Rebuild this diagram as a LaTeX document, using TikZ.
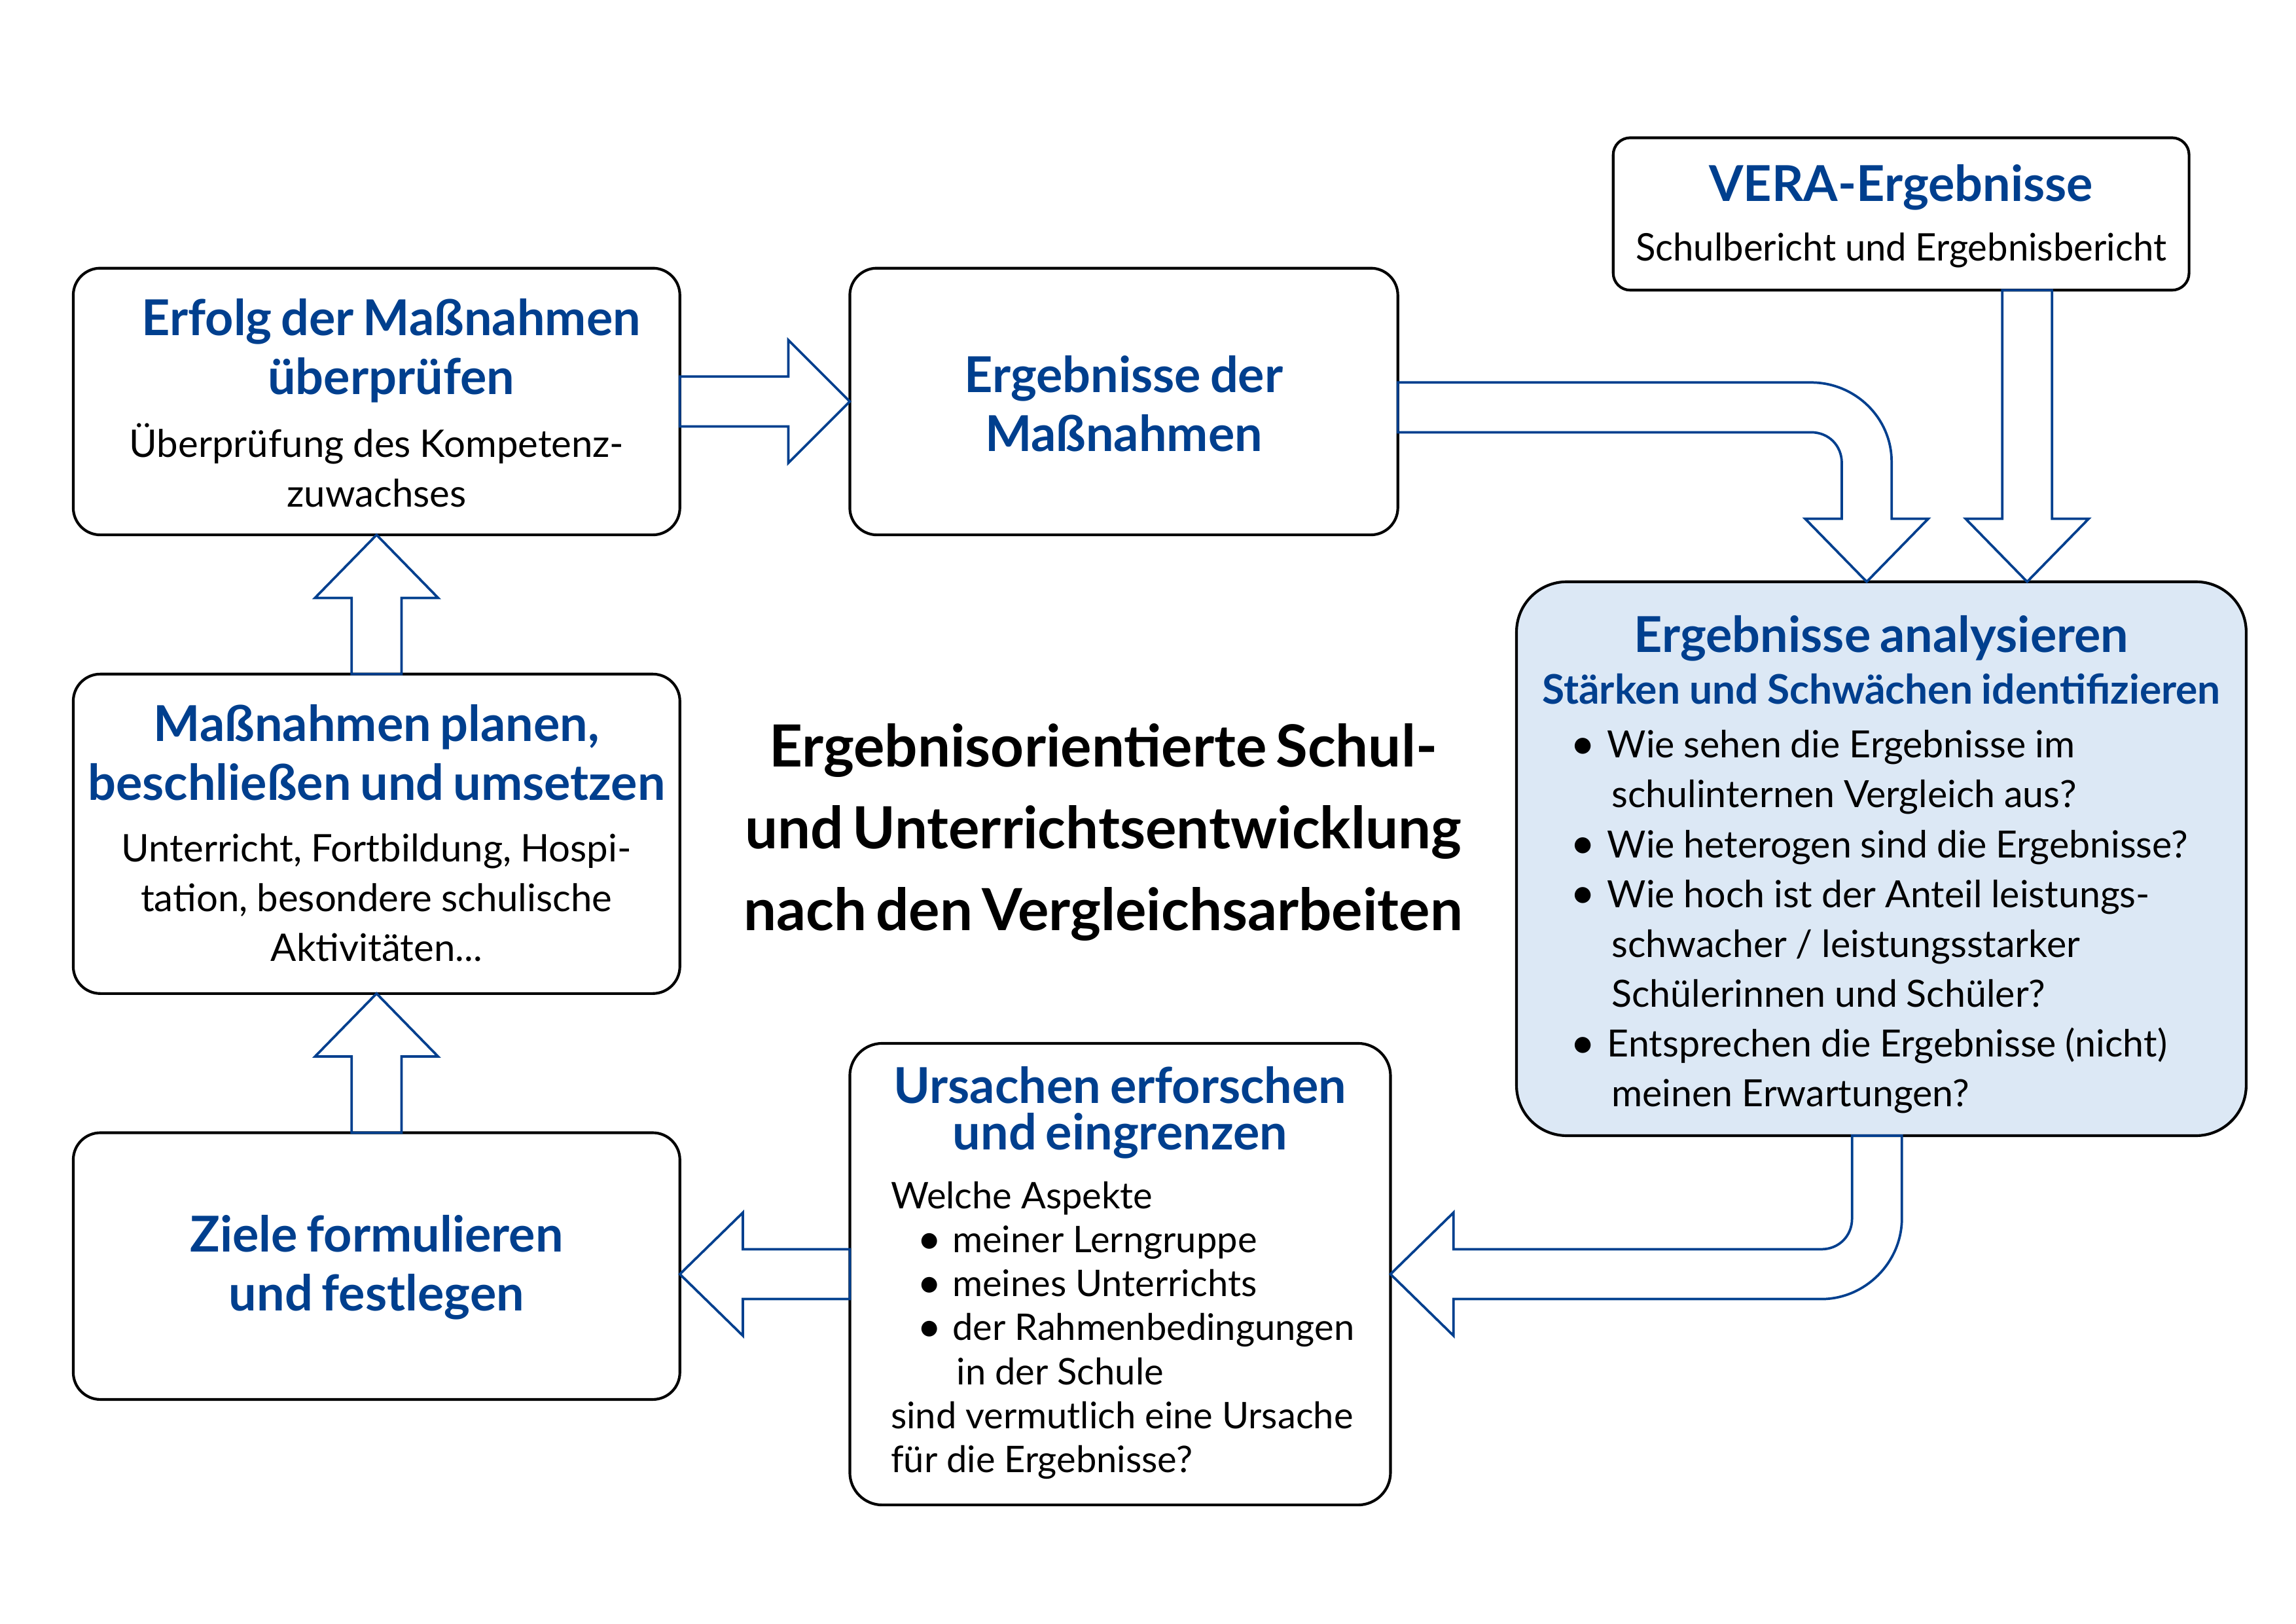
\documentclass[tikz,border=0pt]{standalone}
\usepackage{fontspec}
\setmainfont{Lato}
\usetikzlibrary{calc}

\definecolor{vblue}{RGB}{0,63,142}
\definecolor{vfill}{RGB}{220,232,245}
\newlength\pu
\setlength\pu{0.18955mm}
\newcommand\headfnt{\fontsize{18.2}{40\pu}\selectfont\bfseries\color{vblue}}
\newcommand\subfnt{\fontsize{15}{35\pu}\selectfont\bfseries\color{vblue}}
\newcommand\bodyfnt{\fontsize{14}{34\pu}\selectfont\mdseries\color{black}}
\newcommand\titlefnt{\fontsize{21.4}{56\pu}\selectfont\bfseries}
\newcommand\itembul[1]{\makebox[#1][l]{\raisebox{-0.03em}{\scalebox{1.15}{\textbullet}}}}

\tikzset{
  stagebox/.style={draw, line width=1pt, rounded corners=3.5mm, inner sep=0pt, outer sep=0pt},
  txt/.style={text width=#1, align=center, inner sep=0pt},
  blockarrow/.style={draw=vblue, line width=0.9pt},
}

\begin{document}
\begin{tikzpicture}[x=0.18955mm, y=-0.18955mm]
  \useasboundingbox (0,0) rectangle (1567,1108);

  \node[stagebox, minimum width=414\pu, minimum height=182\pu] (erfolg) at (257,274) {};
  \node[stagebox, minimum width=374\pu, minimum height=182\pu] (ergmass) at (767,274) {};
  \node[stagebox, rounded corners=2.2mm, minimum width=393\pu, minimum height=104\pu] (vera) at (1297.5,146) {};
  \node[stagebox, fill=vfill, rounded corners=6.5mm, minimum width=498\pu, minimum height=378\pu] (analyse) at (1284,586) {};
  \node[stagebox, minimum width=414\pu, minimum height=218\pu] (planen) at (257,569) {};
  \node[stagebox, rounded corners=4.2mm, minimum width=369\pu, minimum height=315\pu] (ursachen) at (764.5,869.5) {};
  \node[stagebox, minimum width=414\pu, minimum height=182\pu] (ziele) at (257,864) {};

  \node[txt=406\pu] (erfolgtxt) at ($(erfolg.center)+(0,1)$)
    {\headfnt\hspace*{20\pu}Erfolg der Maßnahmen\\ \hspace*{20\pu}überprüfen\par\vspace{9\pu}
     \bodyfnt Überprüfung des Kompetenz-\\ zuwachses\par};
  \node[txt=366\pu] (ergmasstxt) at ($(ergmass.center)+(0,1.5)$)
    {\headfnt Ergebnisse der\\ Maßnahmen\par};
  \node[txt=385\pu] (veratxt) at ($(vera.center)+(0,1.5)$)
    {\headfnt VERA-Ergebnisse\par\vspace{7\pu}
     \bodyfnt\scalebox{0.967}[1]{Schulbericht und Ergebnisbericht}\par};
  \node[txt=494\pu] (analysetxt) at ($(analyse.center)+(0,4)$)
    {{\headfnt Ergebnisse analysieren\par}
     {\subfnt Stärken und Schwächen identifizieren\par}\vspace{3\pu}
     \raggedright\leftskip=35\pu\bodyfnt\fontsize{13.8}{34\pu}\selectfont
     \itembul{25\pu}Wie sehen die Ergebnisse im\\
     \hspace*{28\pu}schulinternen Vergleich aus?\\
     \itembul{25\pu}Wie heterogen sind die Ergebnisse?\\
     \itembul{25\pu}Wie hoch ist der Anteil leistungs-\\
     \hspace*{28\pu}schwacher / leistungsstarker\\
     \hspace*{28\pu}Schülerinnen und Schüler?\\
     \itembul{25\pu}Entsprechen die Ergebnisse (nicht)\\
     \hspace*{28\pu}meinen Erwartungen?\par};
  \node[txt=406\pu] (planentxt) at ($(planen.center)+(0,-0.5)$)
    {\headfnt Maßnahmen planen,\\ beschließen und umsetzen\par\vspace{8\pu}
     \bodyfnt Unterricht, Fortbildung, Hospi-\\ tation, besondere schulische\\ Aktivitäten...\par};
  \node[txt=406\pu] (zieletxt) at ($(ziele.center)+(0,1)$)
    {\headfnt Ziele formulieren\\ und festlegen\par};
  \node[txt=366\pu] (ursachentxt) at ($(ursachen.center)+(0,-1)$)
    {{\headfnt\fontsize{18.2}{32\pu}\selectfont Ursachen erforschen\\ und eingrenzen\par}\vspace{10\pu}
     \raggedright\leftskip=26.5\pu\bodyfnt\fontsize{13.5}{30\pu}\selectfont
     Welche Aspekte\\
     \hspace*{18\pu}\itembul{24\pu}meiner Lerngruppe\\
     \hspace*{18\pu}\itembul{24\pu}meines Unterrichts\\
     \hspace*{18\pu}\itembul{24\pu}der Rahmenbedingungen\\
     \hspace*{45\pu}in der Schule\\
     sind vermutlich eine Ursache\\
     für die Ergebnisse?\par};
  \node[txt=560\pu] (title) at (753,568)
    {\titlefnt Ergebnisorientierte Schul-\\ und Unterrichtsentwicklung\\ nach den Vergleichsarbeiten\par};

  \draw[blockarrow] ($(erfolg.east)+(0,-17)$) -- ($(ergmass.west)+(-42,-17)$) -- ($(ergmass.west)+(-42,-42)$)
    -- (ergmass.west) -- ($(ergmass.west)+(-42,42)$) -- ($(ergmass.west)+(-42,17)$) -- ($(erfolg.east)+(0,17)$) -- cycle;

  \coordinate (b0) at ($(ergmass.east)+(0,4)$);
  \coordinate (b1) at ($(analyse.north)+(-10,0)$);
  \coordinate (bc) at (b0 -| b1);
  \draw[blockarrow] ($(b0)+(0,-17)$) -- ($(bc)+(-38,-17)$) .. controls ($(bc)+(-8,-17)$) and ($(bc)+(17,7)$) .. ($(bc)+(17,37)$)
    -- ($(b1)+(17,-43)$) -- ($(b1)+(42,-43)$) -- (b1) -- ($(b1)+(-42,-43)$) -- ($(b1)+(-17,-43)$)
    -- ($(bc)+(-17,38)$) .. controls ($(bc)+(-17,26)$) and ($(bc)+(-26,17)$) .. ($(bc)+(-38,17)$) -- ($(b0)+(0,17)$) -- cycle;

  \coordinate (c0) at ($(vera.south)+(86,0)$);
  \coordinate (c1) at (c0 |- analyse.north);
  \draw[blockarrow] ($(c0)+(-17,0)$) -- ($(c1)+(-17,-43)$) -- ($(c1)+(-42,-43)$) -- (c1)
    -- ($(c1)+(42,-43)$) -- ($(c1)+(17,-43)$) -- ($(c0)+(17,0)$) -- cycle;

  \coordinate (d0) at ($(analyse.south)+(-3,0)$);
  \coordinate (d1) at (ursachen.east);
  \coordinate (dc) at (d0 |- d1);
  \draw[blockarrow] ($(d0)+(-17,0)$) -- ($(dc)+(-17,-38)$) .. controls ($(dc)+(-17,-26)$) and ($(dc)+(-26,-17)$) .. ($(dc)+(-38,-17)$)
    -- ($(d1)+(43,-17)$) -- ($(d1)+(43,-42)$) -- (d1) -- ($(d1)+(43,42)$) -- ($(d1)+(43,17)$)
    -- ($(dc)+(-38,17)$) .. controls ($(dc)+(-8,17)$) and ($(dc)+(17,-8)$) .. ($(dc)+(17,-38)$) -- ($(d0)+(17,0)$) -- cycle;

  \coordinate (e1) at (ziele.east |- ursachen.west);
  \draw[blockarrow] ($(ursachen.west)+(0,-17)$) -- ($(e1)+(43,-17)$) -- ($(e1)+(43,-42)$) -- (e1)
    -- ($(e1)+(43,42)$) -- ($(e1)+(43,17)$) -- ($(ursachen.west)+(0,17)$) -- cycle;

  \draw[blockarrow] ($(ziele.north)+(-17,0)$) -- ($(planen.south)+(-17,43)$) -- ($(planen.south)+(-42,43)$) -- (planen.south)
    -- ($(planen.south)+(42,43)$) -- ($(planen.south)+(17,43)$) -- ($(ziele.north)+(17,0)$) -- cycle;

  \draw[blockarrow] ($(planen.north)+(-17,0)$) -- ($(erfolg.south)+(-17,43)$) -- ($(erfolg.south)+(-42,43)$) -- (erfolg.south)
    -- ($(erfolg.south)+(42,43)$) -- ($(erfolg.south)+(17,43)$) -- ($(planen.north)+(17,0)$) -- cycle;
\end{tikzpicture}
\end{document}
